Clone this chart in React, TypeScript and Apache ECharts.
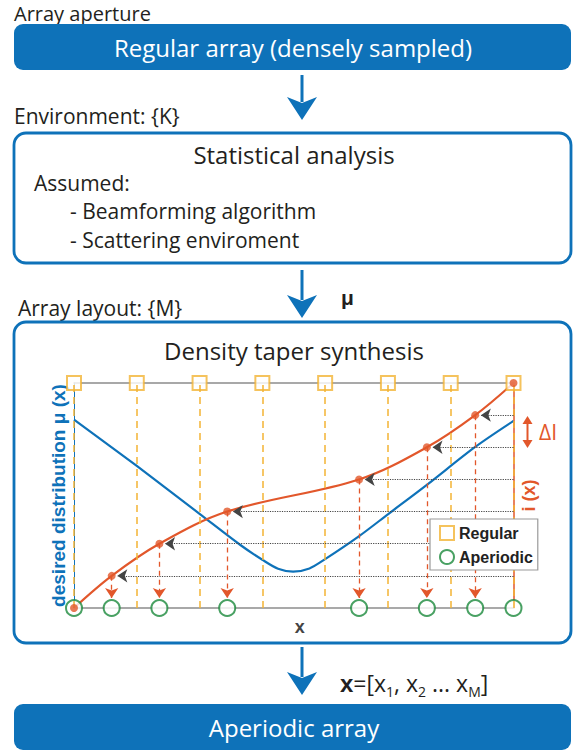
import React, { useEffect, useRef } from "react";
import * as echarts from "echarts";

// ---- data ----
const regularX = [0, 1, 2, 3, 4, 5, 6, 7];
const topLevel = 7;
const aperiodicX = [0, 0.6, 1.36, 2.44, 4.54, 5.62, 6.39, 7];
const levels = [0, 1, 2, 3, 4, 5, 6, 7];
const muX = [0, 1, 2, 2.65, 3.0, 3.25, 3.49, 3.75, 4.0, 4.53, 5.01, 5.62, 6.39, 7];
const muY = [5.86, 4.42, 2.93, 1.96, 1.5, 1.22, 1.13, 1.23, 1.52, 2.22, 2.93, 3.83, 5.01, 5.82];
const cdfX = [0, 0.6, 1.36, 2.44, 4.54, 5.62, 6.39, 7];
const cdfY = [0, 1, 2, 3, 4, 5, 6, 7];
const arrowLevels = [1, 2, 3, 4, 5, 6];

const BLUE = "#0e72b9";
const ORANGE = "#e2572b";
const YELLOW = "#f3b435";
const GREEN = "#1c8a3c";
const GRAY = "#8c8c8c";
const TXT = "#231f20";
const FONT = "Open Sans";
const BOLD = "Liberation Sans";

function arrow(x: number, y1: number, tip: number) {
  return {
    type: "group",
    children: [
      { type: "line", shape: { x1: x, y1: y1, x2: x, y2: tip - 18 }, style: { stroke: BLUE, lineWidth: 3 } },
      {
        type: "polygon",
        shape: { points: [[x - 15, tip - 23], [x, tip], [x + 15, tip - 23], [x, tip - 17]] },
        style: { fill: BLUE },
      },
    ],
  };
}

function txt(text: string, x: number, y: number, size: number, extra: any = {}) {
  return {
    type: "text",
    style: {
      text,
      x,
      y,
      fill: TXT,
      fontSize: size,
      fontFamily: FONT,
      align: "left",
      verticalAlign: "middle",
      ...extra,
    },
  };
}

const option: any = {
  animation: false,
  grid: { left: 74, top: 383, width: 439.5, height: 225 },
  legend: {
    data: ["Regular", "Aperiodic"],
    orient: "vertical",
    left: 430,
    top: 519,
    backgroundColor: "#fff",
    borderColor: "#9a9a9a",
    borderWidth: 1.2,
    borderRadius: 0,
    padding: [6, 5, 5, 9],
    itemGap: 8,
    itemWidth: 14,
    itemHeight: 14,
    z: 10,
    textStyle: { fontFamily: BOLD, fontWeight: "bold", fontSize: 16, color: "#222" },
  },
  xAxis: [
    {
      type: "value",
      min: 0,
      max: 7,
      position: "bottom",
      axisLine: { show: true, onZero: false, lineStyle: { color: GRAY, width: 1.5 } },
      axisTick: { show: false },
      axisLabel: { show: false },
      splitLine: { show: false },
      name: "x",
      nameLocation: "middle",
      nameGap: 10,
      nameTextStyle: {
        fontFamily: BOLD,
        fontWeight: "bold",
        fontSize: 18,
        color: "#444",
        padding: [0, 0, 0, 12],
      },
    },
    {
      type: "value",
      min: 0,
      max: 7,
      position: "top",
      axisLine: { show: true, onZero: false, lineStyle: { color: GRAY, width: 1.5 } },
      axisTick: { show: false },
      axisLabel: { show: false },
      splitLine: { show: false },
    },
  ],
  yAxis: [
    {
      type: "value",
      min: 0,
      max: 7,
      position: "left",
      axisLine: { show: true, onZero: false, lineStyle: { color: BLUE, width: 1 } },
      axisTick: { show: false },
      axisLabel: { show: false },
      splitLine: { show: false },
      name: "desired distribution μ (x)",
      nameLocation: "middle",
      nameRotate: 90,
      nameGap: 6,
      nameTextStyle: { fontFamily: BOLD, fontWeight: "bold", fontSize: 19, color: BLUE },
    },
    {
      type: "value",
      min: 0,
      max: 7,
      position: "right",
      axisLine: { show: true, onZero: false, lineStyle: { color: ORANGE, width: 1.5 } },
      axisTick: { show: false },
      axisLabel: { show: false },
      splitLine: { show: false },
      name: "i (x)",
      nameLocation: "middle",
      nameRotate: 90,
      nameGap: 6,
      nameTextStyle: { fontFamily: BOLD, fontWeight: "bold", fontSize: 18, color: ORANGE },
    },
  ],
  series: [
    {
      name: "grid",
      type: "line",
      data: [],
      z: 1,
      markLine: {
        silent: true,
        symbol: ["none", "none"],
        label: { show: false },
        lineStyle: { color: YELLOW, type: [7, 5], width: 1.5 },
        data: regularX.map((x) => [{ coord: [x, 0] }, { coord: [x, topLevel] }]),
      },
    },
    {
      name: "mu",
      type: "line",
      data: muX.map((x, i) => [x, muY[i]]),
      smooth: 0.3,
      showSymbol: false,
      clip: false,
      z: 2,
      lineStyle: { color: BLUE, width: 2.2 },
      itemStyle: { color: BLUE },
    },
    {
      name: "cdf",
      type: "line",
      data: cdfX.map((x, i) => [x, cdfY[i]]),
      smooth: 0.35,
      showSymbol: false,
      clip: false,
      z: 3,
      lineStyle: { color: ORANGE, width: 2.2 },
      itemStyle: { color: ORANGE },
    },
    {
      name: "levels",
      type: "line",
      data: [],
      z: 3,
      markLine: {
        silent: true,
        symbol: ["none", "arrow"],
        symbolSize: 10,
        label: { show: false },
        lineStyle: { color: "#444", type: "dotted", width: 1.2 },
        itemStyle: { color: "#222" },
        data: arrowLevels.map((k) => [
          { coord: [topLevel, levels[k]] },
          { coord: [aperiodicX[k] + 0.09, levels[k]] },
        ]),
      },
    },
    {
      name: "drops",
      type: "line",
      data: [],
      z: 3,
      markLine: {
        silent: true,
        symbol: ["none", "arrow"],
        symbolSize: 10,
        label: { show: false },
        lineStyle: { color: ORANGE, type: [5, 4], width: 1.3 },
        itemStyle: { color: ORANGE },
        data: arrowLevels.map((k) => [
          { coord: [aperiodicX[k], levels[k]] },
          { coord: [aperiodicX[k], 0.31] },
        ]),
      },
    },
    {
      name: "Regular",
      type: "scatter",
      data: regularX.map((x) => [x, topLevel]),
      symbol: "rect",
      symbolSize: 14,
      clip: false,
      z: 4,
      itemStyle: { color: "#fff", borderColor: YELLOW, borderWidth: 2 },
    },
    {
      name: "Aperiodic",
      type: "scatter",
      data: aperiodicX.map((x) => [x, 0]),
      symbol: "circle",
      symbolSize: 16,
      clip: false,
      z: 4,
      itemStyle: { color: "#fff", borderColor: GREEN, borderWidth: 2 },
    },
    {
      name: "dots",
      type: "scatter",
      data: aperiodicX.map((x, i) => [x, levels[i]]),
      symbol: "circle",
      symbolSize: 8,
      clip: false,
      z: 5,
      itemStyle: { color: ORANGE },
    },
  ],
  graphic: [
    txt("Array aperture", 14, 13, 20),
    {
      type: "rect",
      shape: { x: 14, y: 24, width: 557, height: 46, r: 9 },
      style: { fill: BLUE },
    },
    txt("Regular array (densely sampled)", 293, 47, 24, { fill: "#fff", align: "center" }),
    arrow(302, 75, 120),
    txt("Environment: {K}", 14, 116, 21),
    {
      type: "rect",
      shape: { x: 14, y: 133, width: 557, height: 130, r: 12 },
      style: { fill: "#fff", stroke: BLUE, lineWidth: 2.8 },
    },
    txt("Statistical analysis", 294, 154, 24, { align: "center" }),
    txt("Assumed:", 34, 183, 21),
    txt("- Beamforming algorithm", 70, 211, 21),
    txt("- Scattering enviroment", 70, 240, 21),
    arrow(302, 270, 318),
    txt("μ", 341, 297, 21, { fontFamily: BOLD, fontWeight: "bold" }),
    txt("Array layout: {M}", 18, 308, 21),
    {
      type: "rect",
      shape: { x: 14, y: 322, width: 557, height: 321, r: 12 },
      style: { fill: "#fff", stroke: BLUE, lineWidth: 2.8 },
    },
    txt("Density taper synthesis", 294, 350, 24, { align: "center" }),
    // ΔI annotation
    {
      type: "group",
      z: 6,
      children: [
        { type: "line", shape: { x1: 527.5, y1: 421, x2: 527.5, y2: 443 }, style: { stroke: ORANGE, lineWidth: 2 } },
        { type: "polygon", shape: { points: [[522.5, 424], [527.5, 416], [532.5, 424]] }, style: { fill: ORANGE } },
        { type: "polygon", shape: { points: [[522.5, 440], [527.5, 448], [532.5, 440]] }, style: { fill: ORANGE } },
      ],
    },
    txt("ΔI", 539, 432, 21, { fill: ORANGE, fontFamily: FONT }),
    arrow(302, 647, 695),
    {
      type: "text",
      style: {
        text: "{b|x}=[x{s|1}, x{s|2} ... x{s|M}]",
        x: 340,
        y: 683,
        fill: TXT,
        fontSize: 23,
        fontFamily: FONT,
        align: "left",
        verticalAlign: "middle",
        rich: {
          b: { fontFamily: BOLD, fontWeight: "bold", fontSize: 24, fill: TXT },
          s: { fontSize: 14, fontFamily: FONT, fill: TXT, padding: [16, 0, 0, 0] },
        },
      },
    },
    {
      type: "rect",
      shape: { x: 14, y: 704, width: 557, height: 46, r: 9 },
      style: { fill: BLUE },
    },
    txt("Aperiodic array", 294, 727, 24, { fill: "#fff", align: "center" }),
  ],
};

export default function App() {
  const ref = useRef<HTMLDivElement>(null);
  useEffect(() => {
    const chart = echarts.init(ref.current!, null, { renderer: "svg" });
    chart.setOption(option);
    return () => chart.dispose();
  }, []);
  return (
    <div
      ref={ref}
      style={{ position: "absolute", left: 0, top: 0, width: 577, height: 756 }}
    />
  );
}
